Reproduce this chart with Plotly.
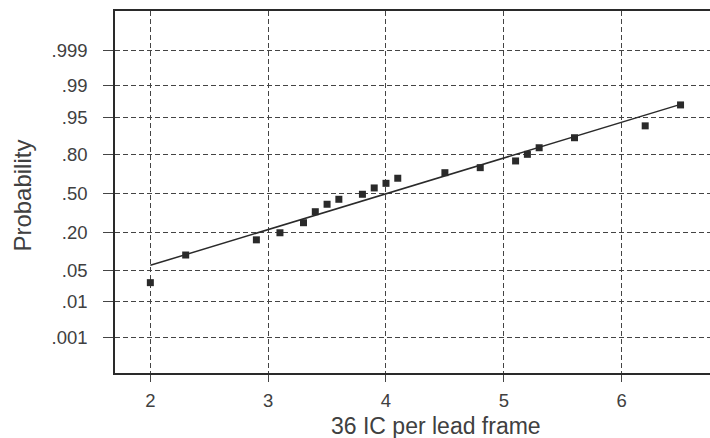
from statistics import NormalDist
import plotly.graph_objects as go

# ---- data ----
ic_per_frame = [2.0, 2.3, 2.9, 3.1, 3.3, 3.4, 3.5, 3.6, 3.8, 3.9,
                4.0, 4.1, 4.5, 4.8, 5.1, 5.2, 5.3, 5.6, 6.2, 6.5]
probability = [0.028, 0.094, 0.161, 0.201, 0.267, 0.350, 0.411, 0.453, 0.496, 0.550,
               0.589, 0.631, 0.675, 0.713, 0.760, 0.802, 0.839, 0.886, 0.928, 0.972]
fit_mean = 4.0
fit_sd = 1.30
prob_ticks = [0.999, 0.99, 0.95, 0.80, 0.50, 0.20, 0.05, 0.01, 0.001]
prob_tick_text = [".999", ".99", ".95", ".80", ".50", ".20", ".05", ".01", ".001"]
x_ticks = [2, 3, 4, 5, 6]

nd = NormalDist()
z_points = [nd.inv_cdf(p) for p in probability]
z_ticks = [nd.inv_cdf(p) for p in prob_ticks]
line_x = [min(ic_per_frame), max(ic_per_frame)]
line_z = [(v - fit_mean) / fit_sd for v in line_x]

FONT = "Liberation Sans, Arial, sans-serif"
TXT = "#404040"
INK = "#2a2a2a"

fig = go.Figure()
fig.add_trace(go.Scatter(x=line_x, y=line_z, mode="lines",
                         line=dict(color=INK, width=1.5), showlegend=False,
                         hoverinfo="skip"))
fig.add_trace(go.Scatter(x=ic_per_frame, y=z_points, mode="markers",
                         marker=dict(symbol="square", size=7, color=INK),
                         showlegend=False))

fig.update_layout(
    width=710, height=438,
    margin=dict(l=115, r=0, t=11, b=65),
    paper_bgcolor="white", plot_bgcolor="white",
    font=dict(family=FONT, color=TXT, size=18),
    xaxis=dict(range=[1.70, 6.75], tickvals=x_ticks,
               showgrid=True, gridcolor="#444", gridwidth=1, griddash="5px,3px",
               showline=True, linecolor=INK, linewidth=1.5, mirror=True,
               ticks="outside", ticklen=7, tickcolor="#444", tickwidth=1,
               ticklabelstandoff=3,
               tickfont=dict(size=18.5, color=TXT), zeroline=False),
    yaxis=dict(range=[-3.854, 3.931], tickvals=z_ticks, ticktext=prob_tick_text,
               showgrid=True, gridcolor="#444", gridwidth=1, griddash="5px,3px",
               showline=True, linecolor=INK, linewidth=1.5, mirror=False,
               ticks="outside", ticklen=10, tickcolor="#444", tickwidth=1,
               ticklabelstandoff=12,
               tickfont=dict(size=18.5, color=TXT), zeroline=False),
    annotations=[
        dict(text="36 IC per lead frame", xref="paper", yref="paper",
             x=0.5395, y=0, yshift=-53, xanchor="center", yanchor="middle",
             showarrow=False, font=dict(size=23, color=TXT, family=FONT)),
        dict(text="Probability", xref="paper", yref="paper",
             x=0, xshift=-92, y=0.49, xanchor="center", yanchor="middle",
             textangle=-90, showarrow=False,
             font=dict(size=24, color=TXT, family=FONT)),
    ],
)

fig.write_html("out.html", config={"displayModeBar": False},
               post_script="document.body.style.margin='0';document.body.style.overflow='hidden';")
